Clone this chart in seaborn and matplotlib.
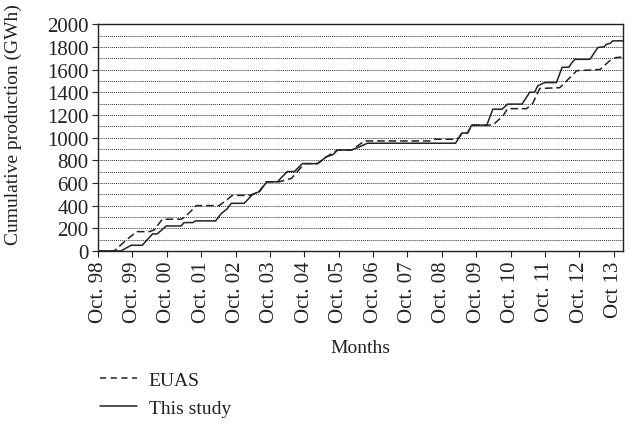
import matplotlib
matplotlib.use("Agg")
import matplotlib.pyplot as plt
from matplotlib.ticker import MultipleLocator, FixedLocator
import pandas as pd
import seaborn as sns

# months counted from Oct. 98 (0) ; vertices
study_months = [0, 8, 11.5, 15.4, 19, 20.6, 23.8, 29, 30, 33, 34, 41, 43, 45, 46.5,
                51, 54, 56, 59, 62.6, 66, 68.5, 71.3, 76.6, 79.7, 82, 83.6, 88.5,
                92.3, 94, 124.8, 126, 127, 129, 130.4, 135.7, 137.8, 141, 143, 148,
                150.7, 152.4, 153.5, 156, 160, 162, 164.3, 165.4, 166.4, 171.7,
                174.5, 176.6, 177.6, 178.7, 179.7, 183.2]
study_values = [0, 0, 50, 50, 150, 150, 220, 220, 250, 250, 265, 265, 330, 370, 420,
                420, 500, 520, 610, 610, 700, 700, 770, 770, 830, 850, 890, 890,
                930, 950, 950, 1000, 1040, 1040, 1110, 1110, 1250, 1250, 1295, 1295,
                1400, 1400, 1457, 1485, 1485, 1620, 1620, 1660, 1690, 1690,
                1795, 1800, 1825, 1830, 1853, 1853]

euas_months = [0, 5.6, 10, 13, 13.6, 17.8, 19.6, 22.4, 29, 30.4, 34.3, 42.3, 46.9,
               52.8, 56.3, 58.7, 63.3, 67.5, 72, 76.6, 79.7, 83.6, 88.5, 93, 115.7,
               116.8, 124.8, 126, 127, 129, 130.4, 137.8, 141.3, 143, 149.6, 151.7,
               154.2, 161.2, 167.1, 175.2, 178.7, 180.8, 183.2]
euas_values = [0, 0, 100, 160, 170, 170, 185, 280, 280, 300, 400, 400, 490,
               490, 520, 610, 610, 640, 770, 770, 830, 890, 890, 970, 970,
               985, 985, 1000, 1040, 1040, 1110, 1110, 1190, 1255, 1255, 1300,
               1433, 1440, 1590, 1600, 1680, 1706, 1710]

tick_labels = ["Oct. 98", "Oct. 99", "Oct. 00", "Oct. 01", "Oct. 02", "Oct. 03",
               "Oct. 04", "Oct. 05", "Oct. 06", "Oct. 07", "Oct. 08", "Oct. 09",
               "Oct. 10", "Oct. 11", "Oct. 12", "Oct 13"]

df = pd.concat([
    pd.DataFrame({"month": euas_months, "value": euas_values, "series": "EUAS"}),
    pd.DataFrame({"month": study_months, "value": study_values, "series": "This study"}),
])

sns.set_theme(style="white")
plt.rcParams["font.family"] = ["Liberation Serif", "DejaVu Serif"]
plt.rcParams["text.color"] = "#222222"
plt.rcParams["axes.labelcolor"] = "#222222"
plt.rcParams["xtick.color"] = "#222222"
plt.rcParams["ytick.color"] = "#222222"

fig = plt.figure(figsize=(6.33, 4.27), dpi=100)
ax = fig.add_axes([0.155, 0.41, 0.829, 0.531])

sns.lineplot(data=df, x="month", y="value", hue="series", style="series",
             palette={"EUAS": "#222222", "This study": "#222222"},
             dashes={"EUAS": (5, 2.5), "This study": ""},
             estimator=None, sort=False, linewidth=1.1, ax=ax, legend=False)

ax.set_xlim(0, 183.2)
ax.set_ylim(0, 2000)
ax.xaxis.set_major_locator(FixedLocator([12 * i for i in range(len(tick_labels))]))
ax.set_xticklabels(tick_labels, rotation=90, fontsize=15)
ax.yaxis.set_major_locator(MultipleLocator(200))
ax.yaxis.set_minor_locator(MultipleLocator(100))
ax.tick_params(axis="y", which="major", labelsize=15, length=4, width=0.8, left=True, pad=3)
ax.tick_params(axis="y", which="minor", length=0)
ax.tick_params(axis="x", length=4, width=0.8, bottom=True, pad=3)
ax.grid(True, axis="y", which="both", linestyle=(0, (1, 1)), color="#333333", linewidth=0.7)
ax.grid(False, axis="x")

for s in ax.spines.values():
    s.set_color("#222222")
    s.set_linewidth(1.0)

ax.set_xlabel("Months", fontsize=14, labelpad=12)
ax.set_ylabel("Cumulative production (GWh)", fontsize=14)
ax.yaxis.set_label_coords(-0.145, 0.56)

h1, = ax.plot([], [], color="#222222", linewidth=1.1, dashes=(4, 3))
h2, = ax.plot([], [], color="#222222", linewidth=1.1)
fig.legend([h1, h2], ["EUAS", "This study"], loc="upper left",
           bbox_to_anchor=(0.143, 0.15), frameon=False, fontsize=14,
           handlelength=1.9, handletextpad=0.6, labelspacing=0.5, borderpad=0)

fig.savefig("out.png", dpi=100)
